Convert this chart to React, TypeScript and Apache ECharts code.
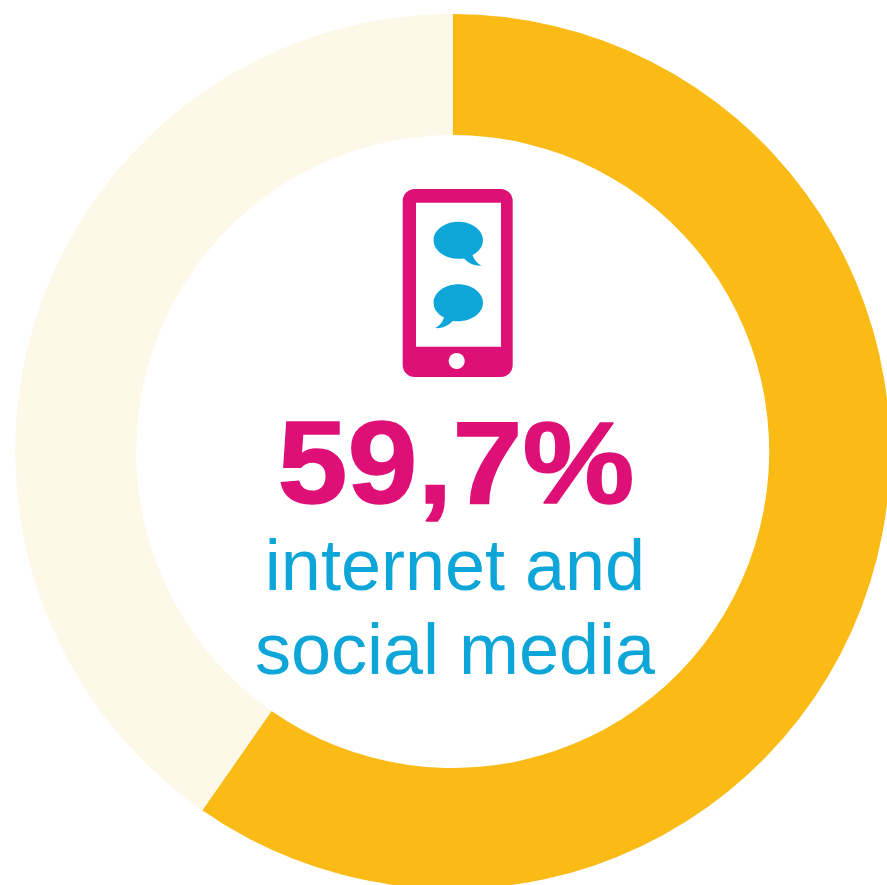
import React, { useEffect, useRef } from "react";
import * as echarts from "echarts";

const segmentNames = ["internet and social media", "other"];
const segmentValues = [59.7, 40.3];
const segmentColors = ["#FABB17", "#FEF8E9"];
const captionLines = ["internet and", "social media"];
const headline = segmentValues[0].toFixed(1).replace(".", ",") + "%";

const PINK = "#DE1078";
const BLUE = "#0EA6D8";
const SANS = '"Liberation Sans", Arial, sans-serif';

// Speech bubble with its tail at the lower right, centred on its ellipse.
echarts.graphic.registerShape(
  "speechBubble",
  echarts.graphic.extendPath(
    "M-24.7 0C-24.7 -10.2 -13.6 -18.5 0 -18.5C13.6 -18.5 24.7 -10.2 24.7 0C24.7 6.5 20.5 11.5 14.3 14.7C15.5 19 19 23.5 23.3 25.3C18 26 11 24 5.7 18.3C3.9 18.5 2 18.5 0 18.5C-13.6 18.5 -24.7 10.2 -24.7 0Z",
    {}
  )
);

export default function App() {
  const ref = useRef<HTMLDivElement>(null);

  useEffect(() => {
    const chart = echarts.init(ref.current!, undefined, { renderer: "svg" });
    chart.setOption({
      animation: false,
      series: [
        {
          type: "pie",
          silent: true,
          center: [452.7, 451.5],
          radius: [316.5, 437.5],
          startAngle: 90,
          clockwise: true,
          label: { show: false },
          labelLine: { show: false },
          data: segmentNames.map((name, i) => ({
            name,
            value: segmentValues[i],
            itemStyle: { color: segmentColors[i] },
          })),
        },
      ],
      graphic: [
        { type: "rect", shape: { x: 402.7, y: 189, width: 110, height: 188, r: 12 }, style: { fill: PINK } },
        { type: "rect", shape: { x: 416, y: 202.7, width: 85, height: 144 }, style: { fill: "#fff" } },
        { type: "circle", shape: { cx: 456.7, cy: 361, r: 8 }, style: { fill: "#fff" } },
        { type: "speechBubble", x: 458.3, y: 240.3, style: { fill: BLUE } },
        { type: "speechBubble", x: 458.3, y: 302.7, scaleX: -1, style: { fill: BLUE } },
        {
          type: "text",
          x: 456,
          y: 404,
          scaleY: 0.93,
          style: {
            text: headline,
            fill: PINK,
            stroke: PINK,
            lineWidth: 1.5,
            lineJoin: "round",
            font: `bold 126px ${SANS}`,
            align: "center",
            verticalAlign: "top",
          },
        },
        ...captionLines.map((line, i) => ({
          type: "text",
          x: 455,
          y: 528.5 + i * 84,
          style: {
            text: line,
            fill: BLUE,
            font: `72px ${SANS}`,
            align: "center",
            verticalAlign: "top",
          },
        })),
      ],
    });
    return () => chart.dispose();
  }, []);

  return (
    <div
      ref={ref}
      style={{ position: "fixed", left: 0, top: 0, width: 887, height: 885, background: "#fff" }}
    />
  );
}
